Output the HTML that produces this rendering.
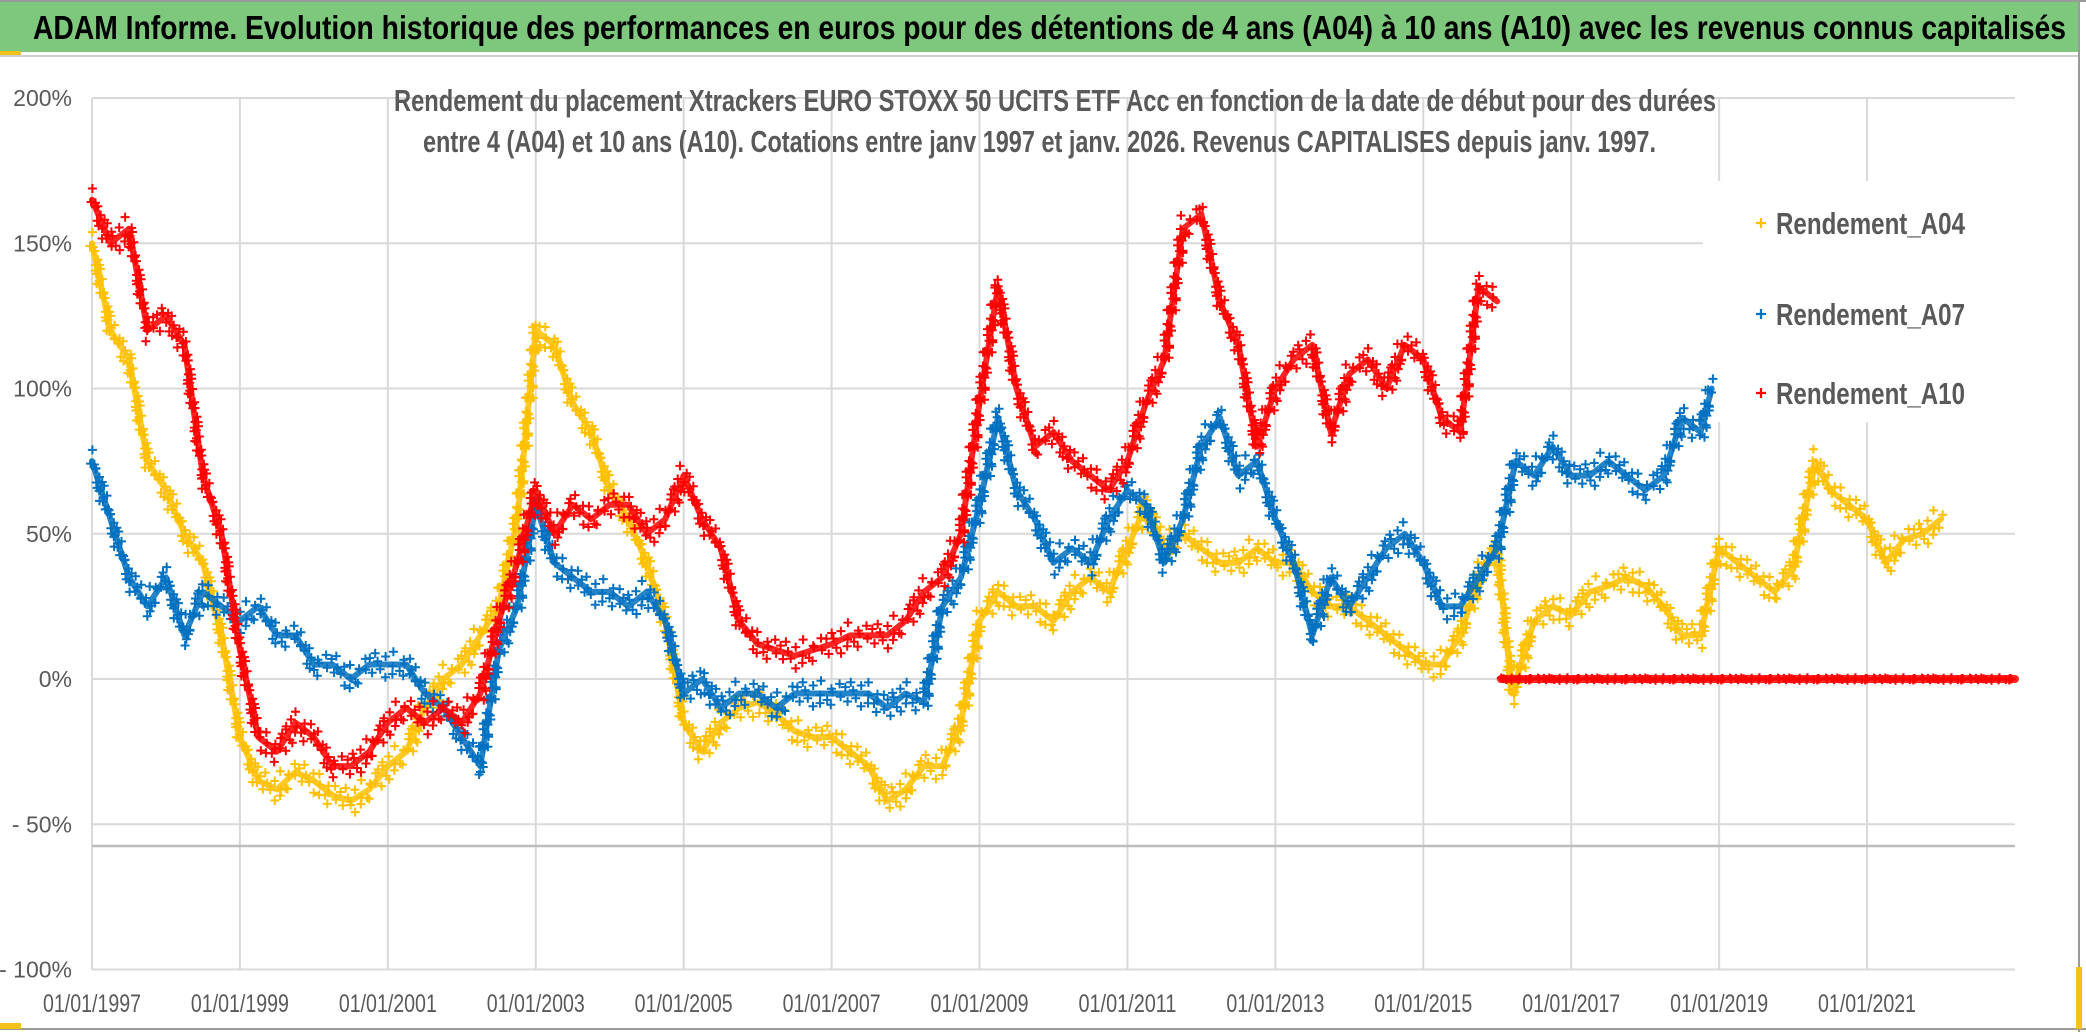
<!DOCTYPE html>
<html><head><meta charset="utf-8"><style>
html,body{margin:0;padding:0;background:#fff;}
svg{display:block;font-family:"Liberation Sans",sans-serif;}
</style></head><body>
<svg id="chart" width="2086" height="1032" viewBox="0 0 2086 1032" xmlns="http://www.w3.org/2000/svg">
<rect x="0" y="0" width="2086" height="1032" fill="#fff"/>
<rect x="0" y="0" width="2080" height="52" fill="#7ec87d"/>
<line x1="0" y1="56" x2="2080" y2="56" stroke="#cfcfcf" stroke-width="2"/>
<text x="33" y="39" font-size="33" font-weight="bold" fill="#000" textLength="2033" lengthAdjust="spacingAndGlyphs">ADAM Informe. Evolution historique des performances en euros pour des détentions de 4 ans (A04) à 10 ans (A10) avec les revenus connus capitalisés</text>
<line x1="2079" y1="0" x2="2079" y2="1032" stroke="#9a9a9a" stroke-width="2"/>
<line x1="0" y1="1029" x2="2086" y2="1029" stroke="#9a9a9a" stroke-width="2"/>
<line x1="0" y1="1" x2="2086" y2="1" stroke="#9a9a9a" stroke-width="2"/>
<rect x="0" y="51" width="21" height="4" fill="#f2c21b"/>
<rect x="0" y="1023" width="21" height="6" fill="#f2c21b"/>
<rect x="2076" y="967" width="6" height="62" fill="#f2c21b"/>
<g id="grid"></g>
<g id="axes"></g>
<rect x="1703" y="181" width="312" height="241" fill="#fff"/>
<g id="series"></g>
<text x="394" y="111" font-size="31" font-weight="bold" fill="#595959" textLength="1322" lengthAdjust="spacingAndGlyphs">Rendement du placement Xtrackers EURO STOXX 50 UCITS ETF Acc en fonction de la date de début pour des durées</text>
<text x="423" y="152" font-size="31" font-weight="bold" fill="#595959" textLength="1233" lengthAdjust="spacingAndGlyphs">entre 4 (A04) et 10 ans (A10). Cotations entre janv 1997 et janv. 2026. Revenus CAPITALISES depuis janv. 1997.</text>
<g id="legend"></g>
</svg>
<script>
const yearsA04 = [1997,1997.25,1997.5,1997.75,1998,1998.25,1998.5,1998.75,1999,1999.25,1999.5,1999.75,2000,2000.25,2000.5,2000.75,2001,2001.25,2001.5,2001.75,2002,2002.25,2002.5,2002.75,2003,2003.25,2003.5,2003.75,2004,2004.25,2004.5,2004.75,2005,2005.25,2005.5,2005.75,2006,2006.25,2006.5,2006.75,2007,2007.25,2007.5,2007.75,2008,2008.25,2008.5,2008.75,2009,2009.25,2009.5,2009.75,2010,2010.25,2010.5,2010.75,2011,2011.25,2011.5,2011.75,2012,2012.25,2012.5,2012.75,2013,2013.25,2013.5,2013.75,2014,2014.25,2014.5,2014.75,2015,2015.25,2015.5,2015.75,2016,2016.2,2016.5,2016.75,2017,2017.25,2017.5,2017.75,2018,2018.25,2018.5,2018.75,2019,2019.25,2019.5,2019.75,2020,2020.3,2020.5,2020.75,2021,2021.25,2021.5,2021.75,2022];
const valsA04 = [150,120,110,75,65,50,40,15,-20,-35,-38,-32,-35,-40,-42,-38,-30,-25,-10,0,5,15,25,55,120,115,95,85,65,55,40,20,-15,-25,-15,-10,-8,-12,-18,-20,-20,-25,-30,-42,-38,-30,-30,-15,20,30,25,25,20,30,35,30,45,60,45,50,45,40,40,45,40,40,30,25,25,20,15,10,5,5,15,35,45,-5,20,25,22,30,32,35,32,25,15,15,45,40,35,30,38,75,65,60,55,40,48,50,55];
const yearsA07 = [1997,1997.25,1997.5,1997.75,1998,1998.25,1998.5,1998.75,1999,1999.25,1999.5,1999.75,2000,2000.25,2000.5,2000.75,2001,2001.25,2001.5,2001.75,2002,2002.25,2002.5,2002.75,2003,2003.25,2003.5,2003.75,2004,2004.25,2004.5,2004.75,2005,2005.25,2005.5,2005.75,2006,2006.25,2006.5,2006.75,2007,2007.25,2007.5,2007.75,2008,2008.25,2008.5,2008.75,2009,2009.25,2009.5,2009.75,2010,2010.25,2010.5,2010.75,2011,2011.25,2011.5,2011.75,2012,2012.25,2012.5,2012.75,2013,2013.25,2013.5,2013.75,2014,2014.25,2014.5,2014.75,2015,2015.25,2015.5,2015.75,2016,2016.25,2016.5,2016.75,2017,2017.25,2017.5,2017.75,2018,2018.25,2018.5,2018.75,2018.9];
const valsA07 = [75,55,35,25,35,15,30,25,20,25,15,15,5,5,0,5,5,5,-5,-10,-20,-30,10,25,60,40,35,30,30,25,30,20,-5,0,-10,-5,-5,-10,-5,-5,-5,-5,-5,-10,-5,-8,25,35,60,90,65,55,40,45,40,55,65,60,40,55,80,90,70,75,55,40,15,35,25,35,45,50,40,25,25,35,45,75,70,80,70,70,75,70,65,70,90,85,100];
const yearsA10 = [1997,1997.25,1997.5,1997.75,1998,1998.25,1998.5,1998.75,1999,1999.25,1999.5,1999.75,2000,2000.25,2000.5,2000.75,2001,2001.25,2001.5,2001.75,2002,2002.25,2002.5,2002.75,2003,2003.25,2003.5,2003.75,2004,2004.25,2004.5,2004.75,2005,2005.25,2005.5,2005.75,2006,2006.25,2006.5,2006.75,2007,2007.25,2007.5,2007.75,2008,2008.25,2008.5,2008.75,2009,2009.25,2009.5,2009.75,2010,2010.25,2010.5,2010.75,2011,2011.25,2011.5,2011.75,2012,2012.25,2012.5,2012.75,2013,2013.25,2013.5,2013.75,2014,2014.25,2014.5,2014.75,2015,2015.25,2015.5,2015.75,2016];
const valsA10 = [165,150,155,120,125,115,70,50,10,-20,-25,-15,-20,-30,-30,-25,-15,-10,-15,-10,-15,-5,20,40,65,50,60,55,60,60,50,55,70,55,45,20,12,10,8,10,12,15,15,15,20,30,35,50,95,135,100,80,85,75,70,65,75,95,110,155,160,130,115,80,100,110,115,85,105,110,100,115,110,90,85,135,130];
const yearsA10zero = [2016.05,2016.5,2017,2017.5,2018,2018.5,2019,2019.5,2020,2020.5,2021,2021.5,2022,2022.5,2023];
const valsA10zero = [0,0,0,0,0,0,0,0,0,0,0,0,0,0,0];
const yTicks = [200,150,100,50,0,-50,-100];
const yTickLabels = ["200%","150%","100%","50%","0%","- 50%","- 100%"];
const xTicks = [1997,1999,2001,2003,2005,2007,2009,2011,2013,2015,2017,2019,2021];
const xTickLabels = ["01/01/1997","01/01/1999","01/01/2001","01/01/2003","01/01/2005","01/01/2007","01/01/2009","01/01/2011","01/01/2013","01/01/2015","01/01/2017","01/01/2019","01/01/2021"];
const legendLabels = ["Rendement_A04","Rendement_A07","Rendement_A10"];

const NS="http://www.w3.org/2000/svg";
const X0=92, XPER=73.96, XEND=2015;
function xs(yr){return X0+(yr-1997)*XPER;}
function ys(v){return 679-v*2.905;}
function mk(tag,attrs,parent){const e=document.createElementNS(NS,tag);for(const k in attrs)e.setAttribute(k,attrs[k]);parent.appendChild(e);return e;}

const grid=document.getElementById('grid');
const axes=document.getElementById('axes');
yTicks.forEach((v,i)=>{
  const l=mk('line',{x1:X0,y1:ys(v),x2:XEND,y2:ys(v),stroke:'#d9d9d9','stroke-width':2},grid);
  
  
  const t=mk('text',{x:72,y:ys(v)+8,'font-size':23,fill:'#595959','text-anchor':'end'},axes);
  t.textContent=yTickLabels[i];
  
  
});
xTicks.forEach((yr,i)=>{
  const l=mk('line',{x1:xs(yr),y1:ys(200),x2:xs(yr),y2:ys(-100),stroke:'#d9d9d9','stroke-width':2},grid);
  
  
  const t=mk('text',{x:xs(yr),y:1012,'font-size':25,fill:'#595959','text-anchor':'middle',textLength:98,lengthAdjust:'spacingAndGlyphs'},axes);
  t.textContent=xTickLabels[i];
  
  
});
const base=mk('line',{x1:X0,y1:846,x2:XEND,y2:846,stroke:'#bdbdbd','stroke-width':2.5},grid);



const series=document.getElementById('series');
const jitter=[-7,3,-2,8,-5,1,6,-8,4,-3,7,-1,-6,2,5,-4];
function drawSeries(years,vals,color,name,lineW,spread){
  const g=mk('g',{},series);
  
  
  let d='';
  years.forEach((yr,i)=>{d+=(i?'L':'M')+xs(yr).toFixed(1)+' '+ys(vals[i]).toFixed(1);});
  const p=mk('path',{d:d,fill:'none',stroke:color,'stroke-width':lineW,'stroke-linejoin':'round','stroke-linecap':'round','stroke-opacity':0.85},g);
  
  
  const L=p.getTotalLength();
  let m='';
  let k=0;
  for(let s=0;s<=L;s+=3){
    const pt=p.getPointAtLength(s);
    const x=pt.x+(jitter[(k+5)%16]*0.4), y=pt.y+jitter[k%16]*spread;
    m+=`M${(x-4.5).toFixed(1)} ${y.toFixed(1)}h9M${x.toFixed(1)} ${(y-4.5).toFixed(1)}v9`;
    k++;
  }
  const pm=mk('path',{d:m,stroke:color,'stroke-width':2,fill:'none'},g);
  
  
}
drawSeries(yearsA04,valsA04,'#ffc000','series-a04',6,1.6);
drawSeries(yearsA07,valsA07,'#0070c0','series-a07',6,1.6);
drawSeries(yearsA10,valsA10,'#ff0000','series-a10',6,1.6);
drawSeries(yearsA10zero,valsA10zero,'#ff0000','series-a10-zero',8,0.15);

const legend=document.getElementById('legend');
const legColors=['#ffc000','#0070c0','#ff0000'];
const legY=[223,314,393];
legendLabels.forEach((lab,i)=>{
  const g=mk('g',{},legend);
  
  
  mk('path',{d:`M1756 ${legY[i]}h10M1761 ${legY[i]-5}v10`,stroke:legColors[i],'stroke-width':2.2},g);
  const t=mk('text',{x:1776,y:legY[i]+11,'font-size':31,fill:'#595959','font-weight':'bold',textLength:189,lengthAdjust:'spacingAndGlyphs'},g);
  t.textContent=lab;
  
  
});
</script>
</body></html>
